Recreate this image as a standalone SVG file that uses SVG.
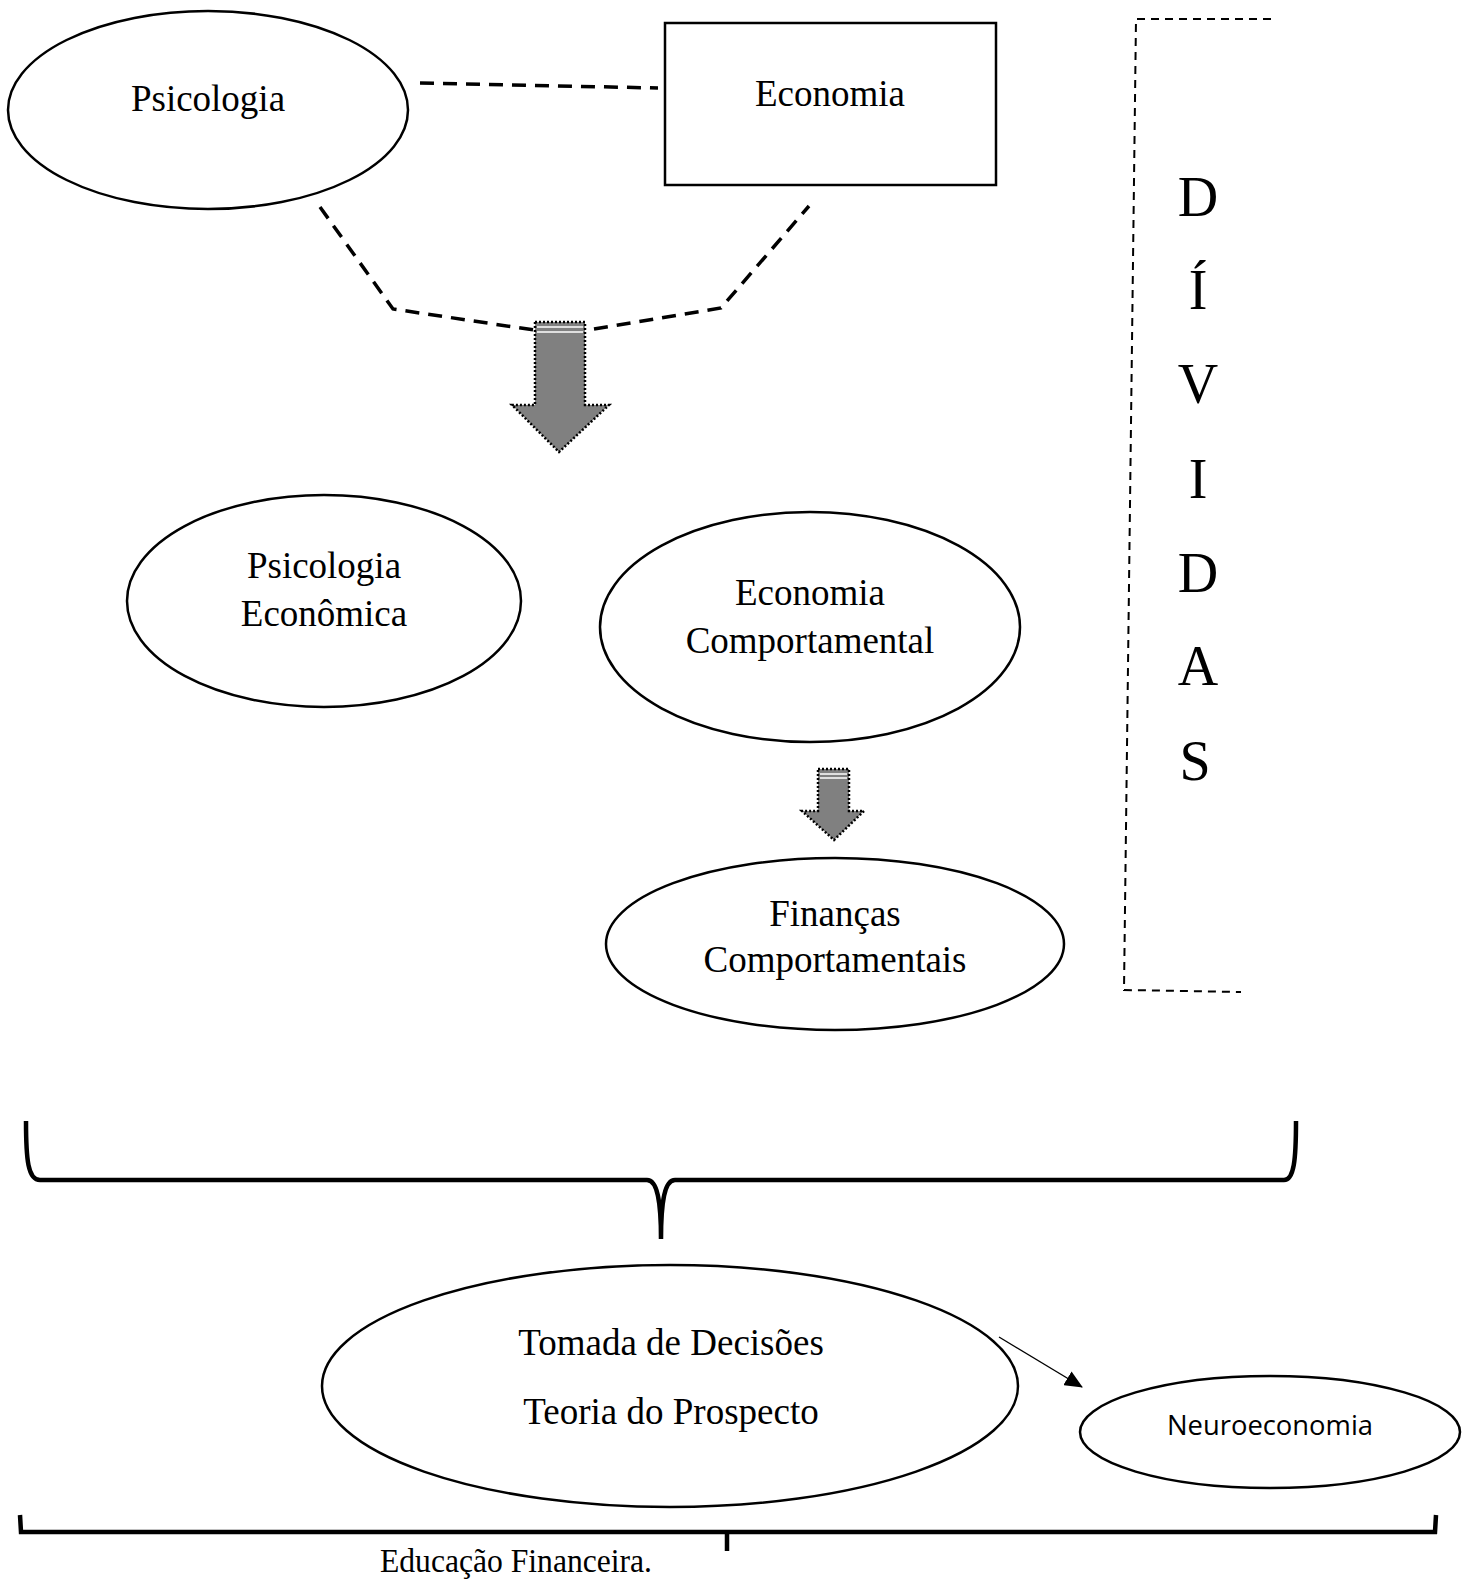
<svg xmlns="http://www.w3.org/2000/svg" width="1470" height="1579" viewBox="0 0 1470 1579">
<style>
.node{fill:#fff;stroke:#000;stroke-width:2.5}
.t{font-family:"Liberation Serif","Times New Roman",serif;font-size:37px;fill:#000;text-anchor:middle}
.big{font-family:"Liberation Serif","Times New Roman",serif;font-size:56px;fill:#000;text-anchor:middle}
.dash{fill:none;stroke:#000;stroke-width:3.5;stroke-dasharray:14 9}
.thin{fill:none;stroke:#000;stroke-width:2;stroke-dasharray:8 6}
.brace{fill:none;stroke:#000;stroke-width:4.5}
.arr{fill:#808080;stroke:#000;stroke-width:2.5;stroke-dasharray:2 2}
</style>
<defs>
<marker id="ah" markerWidth="18" markerHeight="16" refX="17" refY="8" orient="auto" markerUnits="userSpaceOnUse">
<path d="M0,0 L18,8 L0,16 Z" fill="#000"/>
</marker>
</defs>
<g id="connectors">
<line class="dash" x1="420" y1="83" x2="658" y2="88"/>
<polyline class="dash" points="320,207 393,309 534,330"/>
<polyline class="dash" points="594,329 721,308 809,206"/>
<g id="arrow-big">
<path class="arr" d="M535,322 L585,322 L585,405 L609,405 L559,452 L512,405 L535,405 Z"/>
<g stroke="#fff" stroke-width="1.5"><line x1="537" y1="327" x2="583" y2="327"/><line x1="537" y1="332" x2="583" y2="332"/></g>
</g>
<g id="arrow-small">
<path class="arr" d="M818,769 L849,769 L849,811 L864,811 L834,840 L802,811 L818,811 Z"/>
<g stroke="#fff" stroke-width="1.5"><line x1="820" y1="774" x2="847" y2="774"/><line x1="820" y1="778" x2="847" y2="778"/></g>
</g>
<line x1="999" y1="1337" x2="1082" y2="1387" stroke="#000" stroke-width="1.3" marker-end="url(#ah)"/>
</g>
<g id="psicologia"><ellipse class="node" cx="208" cy="110" rx="200" ry="99"/><text class="t" x="208" y="111">Psicologia</text></g>
<g id="economia"><rect class="node" x="665" y="23" width="331" height="162"/><text class="t" x="830" y="106">Economia</text></g>
<g id="psicologia-economica"><ellipse class="node" cx="324" cy="601" rx="197" ry="106"/><text class="t" x="324" y="578">Psicologia</text><text class="t" x="324" y="626">Econômica</text></g>
<g id="economia-comportamental"><ellipse class="node" cx="810" cy="627" rx="210" ry="115"/><text class="t" x="810" y="605">Economia</text><text class="t" x="810" y="653">Comportamental</text></g>
<g id="financas"><ellipse class="node" cx="835" cy="944" rx="229" ry="86"/><text class="t" x="835" y="926">Finanças</text><text class="t" x="835" y="972">Comportamentais</text></g>
<g id="dividas">
<polyline class="thin" points="1271,19 1136,19 1124,990 1241,992"/>
<text class="big" x="1198" y="216">D</text>
<text class="big" x="1198" y="309">Í</text>
<text class="big" x="1198" y="403">V</text>
<text class="big" x="1198" y="498">I</text>
<text class="big" x="1198" y="592">D</text>
<text class="big" x="1198" y="685">A</text>
<text class="big" x="1195" y="780">S</text>
</g>
<g id="brace-top"><path class="brace" d="M26,1121 C26,1160 28,1180 40,1180 L647,1180 C657,1180 661,1200 661,1239 C661,1200 665,1180 675,1180 L1284,1180 C1294,1180 1296,1160 1296,1121"/></g>
<g id="tomada"><ellipse class="node" cx="670" cy="1386" rx="348" ry="121"/><text class="t" x="671" y="1355">Tomada de Decisões</text><text class="t" x="671" y="1424">Teoria do Prospecto</text></g>
<g id="neuroeconomia"><ellipse class="node" cx="1270" cy="1432" rx="190" ry="56"/><text x="1270" y="1428" font-family="'Open Sans','Liberation Sans',sans-serif" font-size="27" text-anchor="middle" dominant-baseline="middle" textLength="206" lengthAdjust="spacingAndGlyphs">Neuroeconomia</text></g>
<g id="brace-bottom"><path class="brace" stroke-width="3.5" d="M20,1515 L21,1532 L1435,1532 L1436,1515 M727,1532 L727,1551"/>
<text x="380" y="1572" font-family="'Liberation Serif','Times New Roman',serif" font-size="34" textLength="272" lengthAdjust="spacingAndGlyphs">Educação Financeira.</text></g>
</svg>
